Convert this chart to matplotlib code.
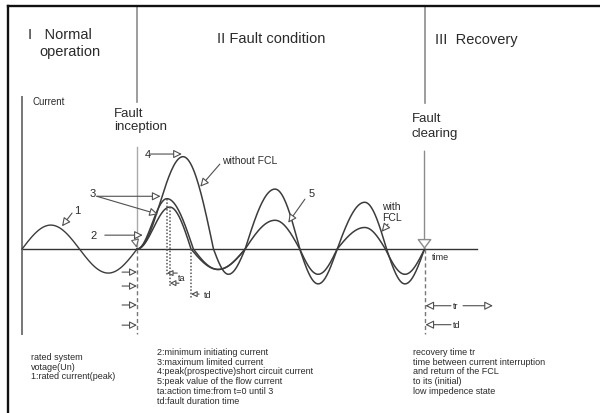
import numpy as np
import matplotlib

matplotlib.use("Agg")
import matplotlib.pyplot as plt
from matplotlib.lines import Line2D
from matplotlib.patches import FancyArrowPatch

plt.rcParams["font.family"] = ["Liberation Sans", "DejaVu Sans"]

# turning points of each trace: time in ms, current in p.u. of rated peak
normal_t = [0, 5, 10, 15, 20]
normal_i = [0, 1.0, 0, -1.0, 0]

# prospective short-circuit current (no limiter)
nofcl_t = [20, 28.0, 33.3, 35.9, 38.8, 44.0, 48.3, 51.5, 54.8, 59.6, 63.4, 66.6, 70]
nofcl_i = [0, 3.85, 0, -1.05, 0, 2.5, 0, -1.45, 0, 1.95, 0, -1.45, 0]

# limited current with FCL
fcl_t = [20, 25.2, 29.8, 34.1, 38.8, 44.0, 48.3, 51.5, 54.8, 59.6, 63.2, 66.6, 70]
fcl_i = [0, 2.1, 0, -0.85, 0, 1.2, 0, -1.05, 0, 0.9, 0, -1.05, 0]

# lower limited trace, merges with the FCL trace after the first swing
fcl2_t = [20, 25.7, 29.4, 34.1, 38.8]
fcl2_i = [0, 1.75, 0, -0.85, 0]

t_fault = 20
t_clear = 70

left_notes = "rated system\nvotage(Un)\n1:rated current(peak)"
mid_notes = ("2:minimum initiating current\n3:maximum limited current\n"
             "4:peak(prospective)short circuit current\n5:peak value of the flow current\n"
             "ta:action time:from t=0 until 3\ntd:fault duration time")
right_notes = ("recovery time tr\ntime between current interruption\n"
               "and return of the FCL\nto its (initial)\nlow impedence state")

CURVE = "#3c3c3c"
GUIDE = "#8c8c8c"
TEXT = "#2a2a2a"


def smooth_wave(ts, vals, flat_start=False, n=40):
    """Join turning points with quarter/half cosine pieces so the trace looks like an AC wave."""
    xs, ys = [], []
    for k in range(len(ts) - 1):
        t0, t1, v0, v1 = ts[k], ts[k + 1], vals[k], vals[k + 1]
        s = np.linspace(0, 1, n)
        start_flat = v0 != 0 or (k == 0 and flat_start)
        end_flat = v1 != 0
        if start_flat and end_flat:
            y = v0 + (v1 - v0) * (1 - np.cos(np.pi * s)) / 2
        elif start_flat:
            y = v0 * np.cos(np.pi / 2 * s)
        elif end_flat:
            y = v1 * np.sin(np.pi / 2 * s)
        else:
            y = v0 + (v1 - v0) * s
        xs.append(t0 + (t1 - t0) * s)
        ys.append(y)
    return np.concatenate(xs), np.concatenate(ys)


def arrow(ax, start, end, head=0.5, color="#505050", lw=0.8):
    ax.add_patch(FancyArrowPatch(
        start, end, arrowstyle=f"-|>,head_length={head},head_width={head * 0.5}",
        mutation_scale=10, fc="white", ec=color, lw=lw, shrinkA=0, shrinkB=0, zorder=5))


fig = plt.figure(figsize=(6, 4.14), dpi=100)
ax = fig.add_axes([0, 0, 1, 1])
ax.set_xlim(-3.83, 100.52)
ax.set_ylim(-6.83, 10.42)
ax.axis("off")

# frame
fig.add_artist(Line2D([0.0133, 1], [0.9824, 0.9824], transform=fig.transFigure, color="#111", lw=1.7))
fig.add_artist(Line2D([0.0133, 0.0133], [0, 0.9824], transform=fig.transFigure, color="#111", lw=1.7))

# axes of the sketch
ax.plot([0, 79.1], [0, 0], color="#333", lw=1.0)
ax.plot([0, 0], [6.33, -3.54], color="#777", lw=1.4)

# phase dividers
ax.plot([t_fault, t_fault], [10.125, 6.125], color=GUIDE, lw=1.2)
ax.plot([t_fault, t_fault], [4.25, 0], color="#aaa", lw=1.0)
ax.plot([t_clear, t_clear], [10.125, 6.08], color=GUIDE, lw=1.2)
ax.add_patch(FancyArrowPatch((t_clear, 4.08), (t_clear, 0), arrowstyle="-|>,head_length=0.6,head_width=0.45",
                             mutation_scale=10, fc="white", ec=GUIDE, lw=1.0, shrinkA=0, shrinkB=0, zorder=5))
for t in (t_fault, t_clear):
    ax.plot([t, t], [0, -3.54], color="#777", lw=1.0, ls=(0, (3, 2)))

# current traces
x, y = smooth_wave(normal_t, normal_i)
ax.plot(x, y, color=CURVE, lw=1.0)
for ts, vals in ((nofcl_t, nofcl_i), (fcl_t, fcl_i), (fcl2_t, fcl2_i)):
    x, y = smooth_wave(ts, vals, flat_start=True)
    ax.plot(x, y, color=CURVE, lw=1.1)

# action / duration markers
ax.plot([fcl_t[1], fcl_t[1]], [fcl_i[1], -1.1], color="#555", lw=1.1, ls=(0, (1, 1.2)))
ax.plot([fcl2_t[1], fcl2_t[1]], [fcl2_i[1], -1.55], color="#555", lw=1.1, ls=(0, (1, 1.2)))
ax.plot([fcl2_t[2], fcl2_t[2]], [0, -2.1], color="#555", lw=1.1, ls=(0, (1, 1.2)))
arrow(ax, (27.0, -1.0), (fcl_t[1], -1.0), head=0.35)
arrow(ax, (27.3, -1.42), (fcl2_t[1], -1.42), head=0.35)
arrow(ax, (30.8, -1.875), (fcl2_t[2], -1.875), head=0.35)

# side arrows on the inception line
for level in (-0.96, -1.54, -2.33, -3.17):
    arrow(ax, (17.4, level), (t_fault, level), head=0.45)

# recovery / duration arrows
arrow(ax, (74.6, -2.36), (t_clear + 0.15, -2.36), head=0.5)
arrow(ax, (76.7, -2.36), (81.9, -2.36), head=0.5)
arrow(ax, (74.6, -3.15), (t_clear + 0.15, -3.15), head=0.5)

# inception marker
arrow(ax, (19.55, 0.5), (19.95, 0.05), head=0.5, color="#666")

# numbered pointers
arrow(ax, (8.7, 1.5), (6.95, 0.95))
arrow(ax, (14.4, 0.58), (21.0, 0.58))
arrow(ax, (13.0, 2.2), (24.1, 2.2))
arrow(ax, (13.0, 2.2), (23.65, 1.45))
arrow(ax, (22.3, 3.96), (27.8, 3.96))
arrow(ax, (34.4, 3.54), (31.0, 2.6))
arrow(ax, (49.2, 2.08), (46.3, 1.1))
arrow(ax, (63.65, 1.04), (62.55, 0.72))

# text
ax.text(1.0, 8.96, "I   Normal", fontsize=10.5, va="center", color=TEXT)
ax.text(2.96, 8.25, "operation", fontsize=10.5, va="center", color=TEXT)
ax.text(33.9, 8.79, "II Fault condition", fontsize=10.5, va="center", color=TEXT)
ax.text(71.8, 8.75, "III  Recovery", fontsize=10.5, va="center", color=TEXT)
ax.text(1.74, 6.17, "Current", fontsize=7, va="center", color=TEXT)
ax.text(16.0, 5.40, "Fault\ninception", fontsize=9.5, va="center", linespacing=1.15, color=TEXT)
ax.text(67.8, 5.15, "Fault\nclearing", fontsize=9.5, va="center", linespacing=1.3, color=TEXT)
ax.text(34.8, 3.71, "without FCL", fontsize=7.5, va="center", color=TEXT)
ax.text(62.6, 1.58, "with\nFCL", fontsize=7.5, va="center", linespacing=1.15, color=TEXT)
ax.text(9.0, 1.63, "1", fontsize=8, va="center", color=TEXT)
ax.text(13.0, 0.58, "2", fontsize=8, va="center", ha="right", color=TEXT)
ax.text(12.9, 2.33, "3", fontsize=8, va="center", ha="right", color=TEXT)
ax.text(21.4, 3.96, "4", fontsize=8, va="center", color=TEXT)
ax.text(49.9, 2.33, "5", fontsize=8, va="center", color=TEXT)
ax.text(71.3, -0.33, "time", fontsize=6.5, va="center", color=TEXT)
ax.text(27.1, -1.18, "ta", fontsize=6.5, va="center", color=TEXT)
ax.text(31.65, -1.875, "td", fontsize=6.5, va="center", color=TEXT)
ax.text(74.95, -2.36, "tr", fontsize=6.5, va="center", color=TEXT)
ax.text(74.95, -3.15, "td", fontsize=6.5, va="center", color=TEXT)

ax.text(1.5, -4.29, left_notes, fontsize=6.5, va="top", linespacing=1.1, color=TEXT)
ax.text(23.5, -4.08, mid_notes, fontsize=6.5, va="top", linespacing=1.1, color=TEXT)
ax.text(68.0, -4.08, right_notes, fontsize=6.5, va="top", linespacing=1.1, color=TEXT)

fig.savefig("out.png", dpi=100, facecolor="white")
